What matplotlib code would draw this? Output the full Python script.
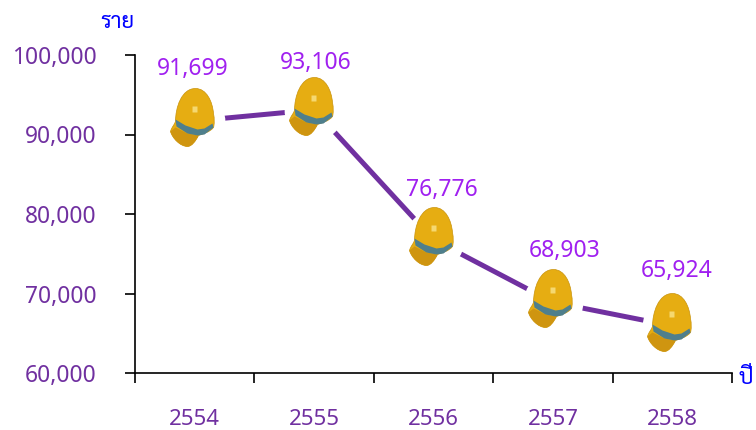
import matplotlib
matplotlib.use('Agg')
import matplotlib.pyplot as plt
from matplotlib.path import Path

years = ['2554', '2555', '2556', '2557', '2558']
workers = [91699, 93106, 76776, 68903, 65924]
labels = ['91,699', '93,106', '76,776', '68,903', '65,924']
y_ticks = [60000, 70000, 80000, 90000, 100000]
y_labels = ['60,000', '70,000', '80,000', '90,000', '100,000']
# label offsets from each point, in pixels
label_dx = [-2, 2, 8, 12, 4]
label_dy = [52, 47, 50, 51, 55]

PURPLE = '#7030a0'
VIOLET = '#a020f0'
BLUE = '#0000ff'
THAI = ['Sarabun', 'Krub', 'Noto Sans']

M, L, C, Z = Path.MOVETO, Path.LINETO, Path.CURVE4, Path.CLOSEPOLY
R = 34  # marker half size in pixels, all helmet parts share it


def helmet_part(verts, codes):
    # first move fixes the scale, matplotlib rescales a path to its largest vertex
    return Path([(-R, -R)] + verts, [M] + codes)


dome = helmet_part(
    [(-25, -10), (-24, -6), (-21, -3), (-20, 0), (-20, 14), (-14, 33), (0, 33), (11, 33), (17, 20), (18, 8),
     (19, 3), (19, -3), (18, -6), (14, -11), (8, -12), (3, -14), (0, -20), (-4, -25), (-8, -25),
     (-15, -25), (-23, -17), (-25, -10), (-25, -10)],
    [M] + [C] * 21 + [Z])
brim = helmet_part(
    [(-25, -10), (-20, -6), (-8, -12), (3, -14), (0, -20), (-4, -25), (-8, -25), (-15, -25), (-23, -17),
     (-25, -10), (-25, -10)],
    [M] + [L] * 3 + [C] * 6 + [Z])
band = helmet_part(
    [(-20, 2), (-10, -4), (2, -8), (9, -7), (17, -2), (18, -6), (9, -13), (2, -14), (-8, -12), (-19, -5),
     (-20, 2)],
    [M] + [L] * 9 + [Z])
shine = helmet_part(
    [(-3, 15), (2, 15), (2, 9), (-3, 9), (-3, 15)],
    [M] + [L] * 3 + [Z])

plt.rcParams['font.family'] = ['Noto Sans', 'DejaVu Sans']

fig = plt.figure(figsize=(7.56, 4.30), dpi=100)
ax = fig.add_axes([135 / 756, 1 - 373 / 430, 597 / 756, 318 / 430])

x = list(range(len(years)))
ms = 2 * R * 0.72
ax.plot(x, workers, color=PURPLE, lw=3.6, zorder=2)
ax.plot(x, workers, ls='none', marker='o', ms=43, mfc='white', mec='none', zorder=3)
ax.plot(x, workers, ls='none', marker=dome, ms=ms, mfc='#e6ad12', mec='#c9930c', mew=0.5, zorder=4)
ax.plot(x, workers, ls='none', marker=brim, ms=ms, mfc='#cf9510', mec='none', zorder=5)
ax.plot(x, workers, ls='none', marker=band, ms=ms, mfc='#4f7f8c', mec='none', zorder=6)
ax.plot(x, workers, ls='none', marker=shine, ms=ms, mfc='#f5d870', mec='none', zorder=6)

for xi, yi, lab, dx, dy in zip(x, workers, labels, label_dx, label_dy):
    ax.annotate(lab, (xi, yi), xytext=(dx * 0.72, dy * 0.72), textcoords='offset points', ha='center',
                va='center', color=VIOLET, fontsize=16.5, zorder=7)

ax.set_xlim(-0.5, 4.5)
ax.set_ylim(60000, 100000)
ax.set_xticks([i - 0.5 for i in range(6)])
ax.set_xticklabels([])
ax.set_xticks(x, years, minor=True)
ax.tick_params(axis='x', which='major', length=7.5, width=1.2)
ax.tick_params(axis='x', which='minor', length=0, pad=26, labelsize=16, labelcolor=PURPLE)
ax.set_yticks(y_ticks, y_labels)
ax.tick_params(axis='y', length=7.5, width=1.2, pad=20, labelsize=16.4, labelcolor=PURPLE)
for s in ['top', 'right']:
    ax.spines[s].set_visible(False)
for s in ['left', 'bottom']:
    ax.spines[s].set_linewidth(1.2)

fig.text(117 / 756, 1 - 23 / 430, 'ราย', color=BLUE, fontsize=16, ha='center', va='center', family=THAI)
fig.text(746 / 756, 1 - 378 / 430, 'ปี', color=BLUE, fontsize=16, ha='center', va='center', family=THAI)

fig.savefig('out.png', dpi=100)
